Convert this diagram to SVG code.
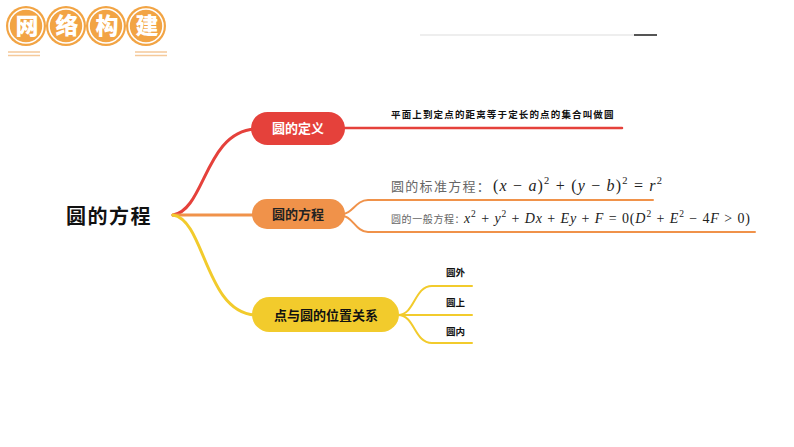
<svg xmlns="http://www.w3.org/2000/svg" width="794" height="447" viewBox="0 0 794 447">
<style>
.hc{fill:#f2a444}
.hr{fill:none;stroke:#fff;stroke-width:1.6}
.ht{font-family:"Noto Sans CJK SC",sans-serif;font-weight:900;font-size:23px;fill:#fff;text-anchor:middle}
.ul{stroke:#f5c99a;stroke-width:1.5}
.br{fill:none;stroke-linecap:round}
.nt{font-family:"Noto Sans CJK SC",sans-serif;font-weight:700;font-size:13px;text-anchor:middle}
.lb{font-family:"Noto Sans CJK SC",sans-serif;font-weight:700;font-size:9.5px;fill:#111}
.cn{font-family:"Noto Sans CJK SC",sans-serif;fill:#666}
.m{font-family:"Liberation Serif",serif;fill:#222}
.i{font-style:italic}
</style>
<g id="header">
<circle class="hc" cx="26" cy="26" r="20"/><circle class="hr" cx="26" cy="26" r="17"/>
<circle class="hc" cx="66" cy="26" r="20"/><circle class="hr" cx="66" cy="26" r="17"/>
<circle class="hc" cx="106" cy="26" r="20"/><circle class="hr" cx="106" cy="26" r="17"/>
<circle class="hc" cx="146" cy="26" r="20"/><circle class="hr" cx="146" cy="26" r="17"/>
<text class="ht" x="27" y="34">网</text>
<text class="ht" x="67" y="34">络</text>
<text class="ht" x="107" y="34">构</text>
<text class="ht" x="147" y="34">建</text>
<line class="ul" x1="8" y1="52" x2="40" y2="52"/><line class="ul" x1="8" y1="55.5" x2="40" y2="55.5"/>
<line class="ul" x1="135" y1="52" x2="167" y2="52"/><line class="ul" x1="135" y1="55.5" x2="167" y2="55.5"/>
<line x1="420" y1="35" x2="634" y2="35" stroke="#eeeeee" stroke-width="2"/>
<line x1="634" y1="35" x2="657" y2="35" stroke="#555" stroke-width="2"/>
</g>
<g id="connectors">
<path class="br" d="M173,215 C205,210 205,132 255,129" stroke="#e5413b" stroke-width="3"/>
<path class="br" d="M173,215 L255,215" stroke="#f0924a" stroke-width="3"/>
<path class="br" d="M173,215 C205,220 205,312 255,315" stroke="#f2cb2c" stroke-width="3"/>
<path class="br" d="M343,128 L622,128" stroke="#e5413b" stroke-width="2.5"/>
<path class="br" d="M343,214 C352,214 356,200 368,200 L653,200" stroke="#f0924a" stroke-width="2"/>
<path class="br" d="M343,216 C352,216 356,232 368,232 L755,232" stroke="#f0924a" stroke-width="2"/>
<path class="br" d="M398,315 C415,315 414,286 432,286 L472,286" stroke="#f2cb2c" stroke-width="2"/>
<path class="br" d="M398,315 L472,315" stroke="#f2cb2c" stroke-width="2"/>
<path class="br" d="M398,315 C415,315 414,343 432,343 L472,343" stroke="#f2cb2c" stroke-width="2"/>
</g>
<g id="root">
<text x="66" y="224" font-family="'Noto Sans CJK SC',sans-serif" font-weight="700" font-size="20" fill="#111" letter-spacing="1.5">圆的方程</text>
</g>
<g id="node-def">
<rect x="251" y="112" width="94" height="33" rx="16.5" fill="#e5413b"/>
<text class="nt" x="298" y="133" fill="#fff">圆的定义</text>
<text class="lb" x="391" y="118" letter-spacing="1.15">平面上到定点的距离等于定长的点的集合叫做圆</text>
</g>
<g id="node-eq">
<rect x="252" y="199" width="93" height="30" rx="15" fill="#f0924a"/>
<text class="nt" x="298" y="219" fill="#222">圆的方程</text>
<text class="cn" x="391" y="191" font-size="13" letter-spacing="1.3">圆的标准方程：</text>
<text class="m" x="493" y="191" font-size="16" textLength="169" lengthAdjust="spacing">(<tspan class="i">x</tspan> − <tspan class="i">a</tspan>)<tspan font-size="10.5" dy="-7">2</tspan><tspan dy="7"> + (</tspan><tspan class="i">y</tspan> − <tspan class="i">b</tspan>)<tspan font-size="10.5" dy="-7">2</tspan><tspan dy="7"> = </tspan><tspan class="i">r</tspan><tspan font-size="10.5" dy="-7">2</tspan></text>
<text class="cn" x="391" y="223" font-size="10" letter-spacing="0.6">圆的一般方程：</text>
<text class="m" x="464" y="223" font-size="14" textLength="286" lengthAdjust="spacing"><tspan class="i">x</tspan><tspan font-size="9.5" dy="-6">2</tspan><tspan dy="6"> + </tspan><tspan class="i">y</tspan><tspan font-size="9.5" dy="-6">2</tspan><tspan dy="6"> + </tspan><tspan class="i">Dx</tspan> + <tspan class="i">Ey</tspan> + <tspan class="i">F</tspan> = 0(<tspan class="i">D</tspan><tspan font-size="9.5" dy="-6">2</tspan><tspan dy="6"> + </tspan><tspan class="i">E</tspan><tspan font-size="9.5" dy="-6">2</tspan><tspan dy="6"> − 4</tspan><tspan class="i">F</tspan> &gt; 0)</text>
</g>
<g id="node-pos">
<rect x="252" y="297" width="147" height="35" rx="17.5" fill="#f2cb2c"/>
<text class="nt" x="326" y="320" fill="#111">点与圆的位置关系</text>
<text class="lb" x="446" y="276">圆外</text>
<text class="lb" x="446" y="306">圆上</text>
<text class="lb" x="446" y="335">圆内</text>
</g>
</svg>
